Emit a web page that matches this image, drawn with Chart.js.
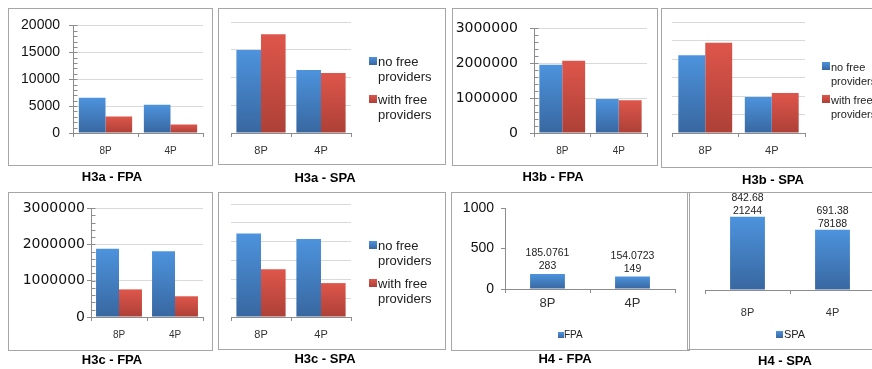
<!DOCTYPE html>
<html>
<head>
<meta charset="utf-8">
<script src="https://cdn.jsdelivr.net/npm/chart.js@4.4.0/dist/chart.umd.min.js"></script>
<style>
    html, body { margin: 0; padding: 0; background: #fff; }
    body { width: 872px; height: 369px; position: relative; overflow: hidden; font-family: "Liberation Sans", Arial, sans-serif; }
    .frame { position: absolute; border: 1px solid #a6a6a6; box-sizing: border-box; pointer-events: none; }
    .title { position: absolute; font-weight: bold; font-size: 13px; transform: translate(-50%, -50%); white-space: nowrap; color: #000; }
    .leg { position: absolute; color: #222; }
    .sw { position: absolute; }
</style>
</head>
<body>
<script>
// categories and series
const categories = ['8P', '4P'];
const seriesNames = ['no free providers', 'with free providers'];

const h3aFpaNoFree = [6550, 5250];
const h3aFpaWithFree = [3050, 1600];
const h3aSpaNoFree = [14950, 11350];
const h3aSpaWithFree = [17800, 10800];

const h3bFpaNoFree = [1960000, 975000];
const h3bFpaWithFree = [2070000, 940000];
const h3bSpaNoFree = [2100000, 975000];
const h3bSpaWithFree = [2440000, 1080000];

const h3cFpaNoFree = [1880000, 1810000];
const h3cFpaWithFree = [760000, 570000];
const h3cSpaNoFree = [2220000, 2070000];
const h3cSpaWithFree = [1270000, 900000];

const h4Fpa = [185.0761283, 154.0723149];
const h4Spa = [842.6821244, 691.3878188];

// tick labels
const yTicks20k = [0, 5000, 10000, 15000, 20000];
const yTicks3m = [0, 1000000, 2000000, 3000000];
const yTicks3mGrid = [0, 500000, 1000000, 1500000, 2000000, 2500000, 3000000];
const yTicks1k = [0, 500, 1000];

const BLUE = ['#4d93dd', '#3867a0'];
const RED = ['#de564b', '#ad4037'];
const AXIS = '#8c8c8c';
const GRID = '#d9d9d9';

Chart.defaults.font.family = '"Liberation Sans", Arial, sans-serif';
Chart.defaults.color = '#222';

// vertical gradient for every bar, light at the top
const barFill = (colors) => (ctx) => {
    const chart = ctx.chart;
    if (!chart.chartArea || ctx.type !== 'data') return colors[0];
    const y = chart.scales.y;
    const y0 = y.getPixelForValue(ctx.raw);
    const y1 = y.getPixelForValue(0);
    if (!(y1 - y0 > 1)) return colors[0];
    const g = chart.ctx.createLinearGradient(0, y0, 0, y1);
    g.addColorStop(0, colors[0]);
    g.addColorStop(1, colors[1]);
    return g;
};

// value labels above the bars (H4 charts), wrapped like the original
const barLabels = {
    id: 'barLabels',
    afterDatasetsDraw(chart, args, opts) {
        if (!opts.wrap) return;
        const c = chart.ctx;
        const meta = chart.getDatasetMeta(0);
        c.save();
        c.font = '10.5px "Liberation Sans", Arial, sans-serif';
        c.fillStyle = '#222';
        c.textAlign = 'center';
        c.textBaseline = 'alphabetic';
        meta.data.forEach((bar, i) => {
            const s = String(chart.data.datasets[0].data[i]);
            c.fillText(s.slice(0, opts.wrap), bar.x, bar.y - opts.gap - 13);
            c.fillText(s.slice(opts.wrap), bar.x, bar.y - opts.gap);
        });
        c.restore();
    }
};

// small tick marks on the inner side of the value axis
const innerTicks = {
    id: 'innerTicks',
    afterDraw(chart, args, opts) {
        if (!opts.on) return;
        const c = chart.ctx;
        const y = chart.scales.y;
        const x0 = Math.round(chart.chartArea.left) + 0.5;
        c.save();
        c.strokeStyle = AXIS;
        c.lineWidth = 1;
        c.beginPath();
        y.ticks.forEach(t => {
            const py = Math.round(y.getPixelForValue(t.value)) + 0.5;
            c.moveTo(x0, py);
            c.lineTo(x0 + 4, py);
        });
        c.stroke();
        c.restore();
    }
};

const panel = (p) => {
    const [bl, bt, br, bb] = p.box;
    const [pl, pt, pr, pb] = p.plot;
    const w = br - bl, h = bb - bt;

    const canvas = document.createElement('canvas');
    canvas.width = w;
    canvas.height = h;
    canvas.style.cssText = `position:absolute;left:${bl}px;top:${bt}px;width:${w}px;height:${h}px`;
    document.body.appendChild(canvas);

    const frame = document.createElement('div');
    frame.className = 'frame';
    frame.style.cssText = `left:${bl}px;top:${bt}px;width:${w}px;height:${h}px`;
    document.body.appendChild(frame);

    const title = document.createElement('div');
    title.className = 'title';
    title.style.left = p.tx + 'px';
    title.style.top = p.ty + 'px';
    title.textContent = p.title;
    document.body.appendChild(title);

    // y axis tick positions: labelled major ticks plus minor marks
    let tickValues = p.yGrid || p.yLabels;
    if (p.minor) {
        tickValues = [];
        for (let v = 0; v <= p.max; v += p.minor) tickValues.push(v);
    }
    const isMajor = (v) => p.yGrid ? p.yGrid.includes(v) : p.yLabels.includes(v);

    const datasets = p.series.map((data, i) => ({
        label: p.names[i],
        data: data,
        backgroundColor: barFill(p.colors[i]),
        borderWidth: 0,
        categoryPercentage: p.catPct,
        barPercentage: 1
    }));

    new Chart(canvas, {
        type: 'bar',
        data: { labels: categories, datasets: datasets },
        plugins: [barLabels, innerTicks],
        options: {
            responsive: false,
            animation: false,
            layout: { padding: { top: pt - bt, right: br - pr, left: 0, bottom: 0 } },
            plugins: {
                legend: { display: false },
                tooltip: { enabled: false },
                barLabels: { wrap: p.wrap || 0, gap: p.labelGap || 0 },
                innerTicks: { on: !!p.minor }
            },
            scales: {
                x: {
                    afterFit: (s) => { s.height = bb - pb; },
                    border: { display: true, color: AXIS },
                    grid: { drawOnChartArea: false, drawTicks: true, tickLength: 4, tickColor: AXIS },
                    ticks: { color: '#333', font: { size: p.xFont }, padding: p.xPad }
                },
                y: {
                    min: 0,
                    max: p.max,
                    afterFit: (s) => { s.width = pl - bl; },
                    afterBuildTicks: (s) => { s.ticks = tickValues.map(v => ({ value: v })); },
                    border: { display: !!p.yAxis, color: AXIS },
                    grid: {
                        drawOnChartArea: !!p.gridLines,
                        color: (c) => (c.tick && isMajor(c.tick.value)) ? GRID : 'rgba(0,0,0,0)',
                        drawTicks: !!p.yAxis,
                        tickLength: 4,
                        tickColor: (c) => (c.tick && isMajor(c.tick.value)) ? AXIS : 'rgba(0,0,0,0)'
                    },
                    ticks: {
                        display: !!p.yAxis,
                        autoSkip: false,
                        color: '#111',
                        font: p.yFont,
                        padding: p.yPad || 0,
                        callback: (v) => (p.yLabels && p.yLabels.includes(v)) ? String(v) : ''
                    }
                }
            }
        }
    });

    // legend, drawn as html text
    (p.legend || []).forEach((item) => {
        const sw = document.createElement('div');
        sw.className = 'sw';
        sw.style.cssText = `left:${item.sx}px;top:${item.sy}px;width:${item.ss}px;height:${item.ss}px;background:linear-gradient(${item.color[0]},${item.color[1]})`;
        document.body.appendChild(sw);
        const t = document.createElement('div');
        t.className = 'leg';
        t.style.cssText = `left:${item.x}px;top:${item.y}px;width:${item.w}px;font-size:${item.fs}px;line-height:${item.lh}px`;
        t.textContent = item.text;
        document.body.appendChild(t);
    });
};

const spaLegend = (sx, tx, y1, y2, fs, lh, w) => [
    { color: BLUE, text: seriesNames[0], sx: sx, sy: y1 + lh / 2 - 5, ss: 8, x: tx, y: y1, w: w, fs: fs, lh: lh },
    { color: RED, text: seriesNames[1], sx: sx, sy: y2 + lh / 2 - 5, ss: 8, x: tx, y: y2, w: w, fs: fs, lh: lh }
];

const fpaY14 = { family: '"Liberation Sans", Arial, sans-serif', size: 14 };
const wideY14 = { family: '"DejaVu Sans", sans-serif', size: 14 };

panel({
    title: 'H3a - FPA', tx: 112, ty: 176, box: [8, 8, 213, 166], plot: [73, 24, 203, 133],
    series: [h3aFpaNoFree, h3aFpaWithFree], names: seriesNames, colors: [BLUE, RED], catPct: 0.82,
    max: 20000, yLabels: yTicks20k, minor: 1000, yAxis: true, gridLines: true,
    yFont: fpaY14, yPad: 9, xFont: 10, xPad: 8
});
panel({
    title: 'H3a - SPA', tx: 325, ty: 177, box: [218, 8, 446, 165], plot: [231, 22, 351, 133],
    series: [h3aSpaNoFree, h3aSpaWithFree], names: seriesNames, colors: [BLUE, RED], catPct: 0.82,
    max: 20000, yGrid: yTicks20k, gridLines: true, xFont: 11, xPad: 7,
    legend: spaLegend(369, 378, 54, 92, 13, 15, 60)
});
panel({
    title: 'H3b - FPA', tx: 553, ty: 176, box: [452, 8, 658, 166], plot: [534, 24, 647, 133],
    series: [h3bFpaNoFree, h3bFpaWithFree], names: seriesNames, colors: [BLUE, RED], catPct: 0.81,
    max: 3000000, yLabels: yTicks3m, minor: 200000, yAxis: true, gridLines: true,
    yFont: wideY14, yPad: 12, xFont: 10, xPad: 8
});
panel({
    title: 'H3b - SPA', tx: 773, ty: 179, box: [661, 8, 890, 168], plot: [672, 22, 805, 133],
    series: [h3bSpaNoFree, h3bSpaWithFree], names: seriesNames, colors: [BLUE, RED], catPct: 0.81,
    max: 3000000, yGrid: yTicks3mGrid, gridLines: true, xFont: 11, xPad: 7,
    legend: spaLegend(822, 831, 60, 93, 11, 14, 52)
});
panel({
    title: 'H3c - FPA', tx: 112, ty: 359, box: [8, 192, 213, 351], plot: [91, 208, 203, 317],
    series: [h3cFpaNoFree, h3cFpaWithFree], names: seriesNames, colors: [BLUE, RED], catPct: 0.82,
    max: 3000000, yLabels: yTicks3m, minor: 200000, yAxis: true, gridLines: true,
    yFont: wideY14, yPad: 2, xFont: 10, xPad: 8
});
panel({
    title: 'H3c - SPA', tx: 325, ty: 358, box: [218, 192, 446, 350], plot: [231, 204, 351, 317],
    series: [h3cSpaNoFree, h3cSpaWithFree], names: seriesNames, colors: [BLUE, RED], catPct: 0.82,
    max: 3000000, yGrid: yTicks3mGrid, gridLines: true, xFont: 11, xPad: 7,
    legend: spaLegend(369, 378, 239, 277, 13, 14.5, 60)
});
panel({
    title: 'H4 - FPA', tx: 565, ty: 358, box: [451, 192, 690, 351], plot: [505, 208, 675, 289],
    series: [h4Fpa], names: ['FPA'], colors: [BLUE], catPct: 0.41,
    max: 1000, yLabels: yTicks1k, yAxis: true, gridLines: false,
    yFont: fpaY14, yPad: 7, xFont: 13, xPad: 3, wrap: 8, labelGap: 5,
    legend: [{ color: BLUE, text: 'FPA', sx: 558, sy: 332, ss: 6, x: 564, y: 329, w: 40, fs: 10, lh: 12 }]
});
panel({
    title: 'H4 - SPA', tx: 785, ty: 360, box: [687, 192, 890, 350], plot: [705, 203, 875, 290],
    series: [h4Spa], names: ['SPA'], colors: [BLUE], catPct: 0.41,
    max: 1000, yLabels: yTicks1k, yAxis: false, gridLines: false,
    xFont: 11, xPad: 12, wrap: 6, labelGap: 3,
    legend: [{ color: BLUE, text: 'SPA', sx: 776, sy: 331, ss: 7, x: 784, y: 328, w: 40, fs: 11, lh: 13 }]
});
</script>
</body>
</html>
